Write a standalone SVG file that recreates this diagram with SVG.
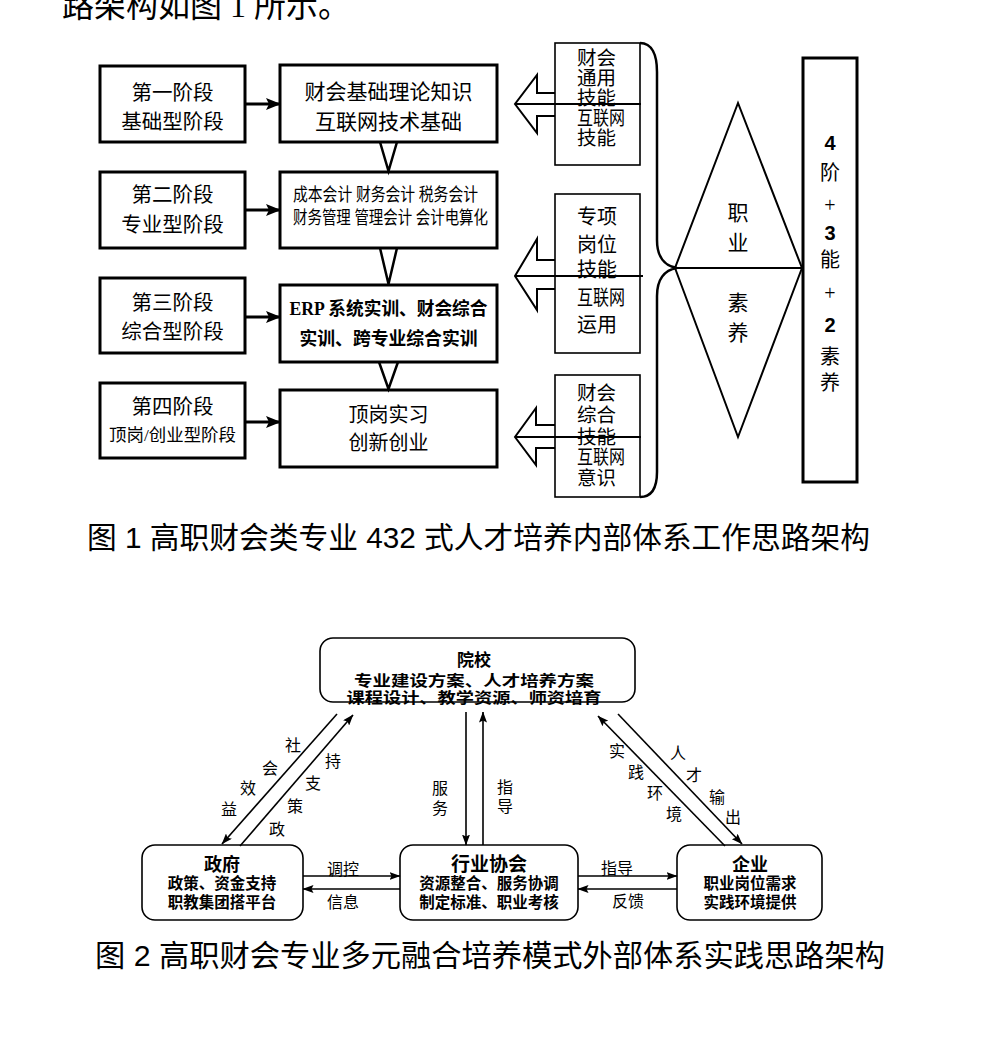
<svg xmlns="http://www.w3.org/2000/svg" width="982" height="1063" viewBox="0 0 982 1063">
<defs>
<style>
.s { font-family: "Liberation Serif", "Noto Sans CJK SC", serif; fill: #000; }
.h { font-family: "Liberation Sans", "Noto Sans CJK SC", sans-serif; fill: #000; }
.c { text-anchor: middle; }
.b { font-weight: bold; }
.box3 { fill: #fff; stroke: #000; stroke-width: 3; }
.box2 { fill: #fff; stroke: #000; stroke-width: 2; }
.rbox { fill: #fff; stroke: #000; stroke-width: 1.6; }
.ln { fill: none; stroke: #000; }
</style>
<marker id="a1" markerUnits="userSpaceOnUse" markerWidth="15" markerHeight="12" refX="14" refY="6" orient="auto"><path d="M0,0 L15,6 L0,12 L3,6 z" fill="#000"/></marker>
<marker id="a2" markerUnits="userSpaceOnUse" markerWidth="11" markerHeight="8" refX="10.5" refY="4" orient="auto"><path d="M0,0 L11,4 L0,8 L2,4 z" fill="#000"/></marker>
</defs>
<rect width="982" height="1063" fill="#fff"/>

<text class="s" x="62" y="17" font-size="33" textLength="288" lengthAdjust="spacingAndGlyphs">路架构如图 1 所示。</text>

<!-- Figure 1 -->
<g id="stage1">
<rect class="box3" x="100" y="66" width="145" height="76"/>
<text class="s c" x="172.5" y="100" font-size="20.5">第一阶段</text>
<text class="s c" x="172.5" y="129" font-size="20.5">基础型阶段</text>
</g>
<g id="stage2">
<rect class="box3" x="100" y="172" width="145" height="76"/>
<text class="s c" x="172.5" y="202" font-size="20.5">第二阶段</text>
<text class="s c" x="172.5" y="232" font-size="20.5">专业型阶段</text>
</g>
<g id="stage3">
<rect class="box3" x="100" y="278" width="145" height="75"/>
<text class="s c" x="172.5" y="310" font-size="20.5">第三阶段</text>
<text class="s c" x="172.5" y="339" font-size="20.5">综合型阶段</text>
</g>
<g id="stage4">
<rect class="box3" x="100" y="383" width="145" height="75"/>
<text class="s c" x="172.5" y="414" font-size="20.5">第四阶段</text>
<text class="s c" x="172.5" y="441" font-size="17" textLength="127" lengthAdjust="spacingAndGlyphs">顶岗/创业型阶段</text>
</g>

<g id="content1">
<rect class="box3" x="280" y="65" width="217" height="77"/>
<text class="s c" x="388.5" y="99" font-size="21">财会基础理论知识</text>
<text class="s c" x="388.5" y="129" font-size="21">互联网技术基础</text>
</g>
<g id="content2">
<rect class="box3" x="280" y="172" width="217" height="76"/>
<text class="s" x="293" y="201" font-size="18" textLength="185" lengthAdjust="spacingAndGlyphs">成本会计 财务会计 税务会计</text>
<text class="s" x="293" y="224" font-size="18" textLength="195" lengthAdjust="spacingAndGlyphs">财务管理 管理会计 会计电算化</text>
</g>
<g id="content3">
<rect class="box3" x="280" y="285" width="217" height="77"/>
<text class="s c b" x="388.5" y="315" font-size="18" textLength="198" lengthAdjust="spacingAndGlyphs">ERP 系统实训、财会综合</text>
<text class="s c b" x="388.5" y="345" font-size="18" textLength="178" lengthAdjust="spacingAndGlyphs">实训、跨专业综合实训</text>
</g>
<g id="content4">
<rect class="box3" x="280" y="390" width="217" height="77"/>
<text class="s c" x="388.5" y="422" font-size="20">顶岗实习</text>
<text class="s c" x="388.5" y="450" font-size="20">创新创业</text>
</g>

<g id="skill1">
<rect class="rbox" x="555" y="43" width="85" height="122"/>
<text class="s" x="577" y="65" font-size="19.5">财会</text>
<text class="s" x="577" y="85" font-size="19.5">通用</text>
<text class="s" x="577" y="105" font-size="19.5">技能</text>
<text class="s" x="577" y="125" font-size="19.5" textLength="48" lengthAdjust="spacingAndGlyphs">互联网</text>
<text class="s" x="577" y="145" font-size="19.5">技能</text>
</g>
<g id="skill2">
<rect class="rbox" x="555" y="194" width="85" height="159"/>
<text class="s" x="577" y="224" font-size="20">专项</text>
<text class="s" x="577" y="252" font-size="20">岗位</text>
<text class="s" x="577" y="277" font-size="20">技能</text>
<text class="s" x="577" y="305" font-size="20" textLength="48" lengthAdjust="spacingAndGlyphs">互联网</text>
<text class="s" x="577" y="332" font-size="20">运用</text>
</g>
<g id="skill3">
<rect class="rbox" x="555" y="375" width="85" height="122"/>
<text class="s" x="577" y="400" font-size="19.5">财会</text>
<text class="s" x="577" y="422" font-size="19.5">综合</text>
<text class="s" x="577" y="444" font-size="19.5">技能</text>
<text class="s" x="577" y="464" font-size="19.5" textLength="48" lengthAdjust="spacingAndGlyphs">互联网</text>
<text class="s" x="577" y="485" font-size="19.5">意识</text>
</g>

<g id="quality">
<path class="ln" stroke-width="2" d="M738,103 L675,268 L802,268 Z"/>
<path class="ln" stroke-width="2" d="M675,268 L738,437 L802,268"/>
<text class="s c" x="738" y="220" font-size="21">职</text>
<text class="s c" x="738" y="250" font-size="21">业</text>
<text class="s c" x="738" y="310" font-size="21">素</text>
<text class="s c" x="738" y="340" font-size="21">养</text>
</g>

<g id="summary">
<rect class="box3" x="803" y="58" width="54" height="424"/>
<text class="h c b" x="830" y="150" font-size="20">4</text>
<text class="s c" x="830" y="180" font-size="20">阶</text>
<text class="s c" x="830" y="212" font-size="20">+</text>
<text class="h c b" x="830" y="240" font-size="20">3</text>
<text class="s c" x="830" y="267" font-size="20">能</text>
<text class="s c" x="830" y="300" font-size="20">+</text>
<text class="h c b" x="830" y="332" font-size="20">2</text>
<text class="s c" x="830" y="364" font-size="20">素</text>
<text class="s c" x="830" y="390" font-size="20">养</text>
</g>

<g id="connectors1">
<line class="ln" stroke-width="3" x1="245" y1="104" x2="280" y2="104" marker-end="url(#a1)"/>
<line class="ln" stroke-width="3" x1="245" y1="210" x2="280" y2="210" marker-end="url(#a1)"/>
<line class="ln" stroke-width="3" x1="245" y1="317" x2="280" y2="317" marker-end="url(#a1)"/>
<line class="ln" stroke-width="3" x1="245" y1="422" x2="280" y2="422" marker-end="url(#a1)"/>
<polyline class="ln" stroke-width="2.5" points="380,142 388.5,171 397,142"/>
<polyline class="ln" stroke-width="2.5" points="380,248 388.5,284 397,248"/>
<polyline class="ln" stroke-width="2.5" points="379,362 388.5,389 398,362"/>
<path class="ln" stroke-width="2" d="M555,93 L537,93 L537,75 L515,104 L537,133 L537,116 L555,116"/>
<line class="ln" stroke-width="2" x1="515" y1="104" x2="641" y2="104"/>
<path class="ln" stroke-width="2" d="M555,260 L537,260 L537,239 L515,276 L537,310 L537,289 L555,289"/>
<line class="ln" stroke-width="2" x1="515" y1="276" x2="643" y2="276"/>
<path class="ln" stroke-width="2" d="M555,425 L536,425 L536,408 L515,437 L536,465 L536,448 L555,448"/>
<line class="ln" stroke-width="2" x1="515" y1="437" x2="641" y2="437"/>
<path class="ln" stroke-width="2.5" d="M640,43 C652,43 657,55 657,72 L657,240 C657,256 664,266 677,268 C664,270 657,280 657,296 L657,472 C657,488 652,497 640,497"/>
</g>

<text class="h" x="87" y="548" font-size="30" textLength="783" lengthAdjust="spacingAndGlyphs">图 1 高职财会类专业 432 式人才培养内部体系工作思路架构</text>

<!-- Figure 2 -->
<g id="school">
<rect class="rbox" x="320" y="638" width="315" height="64" rx="13"/>
<text class="h c b" x="474" y="666" font-size="17">院校</text>
<text class="h c b" x="474" y="686" font-size="15" textLength="240" lengthAdjust="spacingAndGlyphs">专业建设方案、人才培养方案</text>
<text class="h c b" x="474" y="703" font-size="15" textLength="255" lengthAdjust="spacingAndGlyphs">课程设计、教学资源、师资培育</text>
</g>
<g id="gov">
<rect class="rbox" x="142" y="845" width="161" height="75" rx="13"/>
<text class="h c b" x="222" y="871" font-size="18">政府</text>
<text class="h c b" x="222" y="889" font-size="15.5">政策、资金支持</text>
<text class="h c b" x="222" y="908" font-size="15.5">职教集团搭平台</text>
</g>
<g id="industry">
<rect class="rbox" x="400" y="845" width="178" height="75" rx="13"/>
<text class="h c b" x="489" y="871" font-size="19">行业协会</text>
<text class="h c b" x="489" y="889" font-size="15.5">资源整合、服务协调</text>
<text class="h c b" x="489" y="908" font-size="15.5">制定标准、职业考核</text>
</g>
<g id="enterprise">
<rect class="rbox" x="677" y="845" width="145" height="75" rx="13"/>
<text class="h c b" x="750" y="871" font-size="18">企业</text>
<text class="h c b" x="750" y="889" font-size="15.5">职业岗位需求</text>
<text class="h c b" x="750" y="908" font-size="15.5">实践环境提供</text>
</g>

<g id="connectors2">
<line class="ln" stroke-width="1.6" x1="303" y1="876" x2="400" y2="876" marker-end="url(#a2)"/>
<line class="ln" stroke-width="1.6" x1="400" y1="889" x2="303" y2="889" marker-end="url(#a2)"/>
<line class="ln" stroke-width="1.6" x1="578" y1="876" x2="677" y2="876" marker-end="url(#a2)"/>
<line class="ln" stroke-width="1.6" x1="677" y1="889" x2="578" y2="889" marker-end="url(#a2)"/>
<line class="ln" stroke-width="1.6" x1="466" y1="712" x2="466" y2="845" marker-end="url(#a2)"/>
<line class="ln" stroke-width="1.6" x1="483" y1="845" x2="483" y2="712" marker-end="url(#a2)"/>
<line class="ln" stroke-width="1.6" x1="337" y1="714" x2="222" y2="844" marker-end="url(#a2)"/>
<line class="ln" stroke-width="1.6" x1="240" y1="846" x2="353" y2="715" marker-end="url(#a2)"/>
<line class="ln" stroke-width="1.6" x1="725" y1="846" x2="598" y2="716" marker-end="url(#a2)"/>
<line class="ln" stroke-width="1.6" x1="618" y1="714" x2="742" y2="844" marker-end="url(#a2)"/>
<text class="h c" x="343" y="875" font-size="16">调控</text>
<text class="h c" x="343" y="908" font-size="16">信息</text>
<text class="h c" x="617" y="874" font-size="16">指导</text>
<text class="h c" x="628" y="907" font-size="16">反馈</text>
<text class="h c" x="440" y="794" font-size="16">服</text>
<text class="h c" x="440" y="814" font-size="16">务</text>
<text class="h c" x="505" y="793" font-size="16">指</text>
<text class="h c" x="505" y="812" font-size="16">导</text>
<text class="h c" x="293" y="751" font-size="16">社</text>
<text class="h c" x="270" y="774" font-size="16">会</text>
<text class="h c" x="248" y="794" font-size="16">效</text>
<text class="h c" x="229" y="815" font-size="16">益</text>
<text class="h c" x="333" y="767" font-size="16">持</text>
<text class="h c" x="313" y="789" font-size="16">支</text>
<text class="h c" x="295" y="812" font-size="16">策</text>
<text class="h c" x="277" y="835" font-size="16">政</text>
<text class="h c" x="617" y="757" font-size="16">实</text>
<text class="h c" x="636" y="778" font-size="16">践</text>
<text class="h c" x="655" y="799" font-size="16">环</text>
<text class="h c" x="674" y="820" font-size="16">境</text>
<text class="h c" x="678" y="759" font-size="16">人</text>
<text class="h c" x="694" y="781" font-size="16">才</text>
<text class="h c" x="717" y="803" font-size="16">输</text>
<text class="h c" x="733" y="823" font-size="16">出</text>
</g>

<text class="h" x="95" y="966" font-size="30" textLength="790" lengthAdjust="spacingAndGlyphs">图 2 高职财会专业多元融合培养模式外部体系实践思路架构</text>
</svg>
